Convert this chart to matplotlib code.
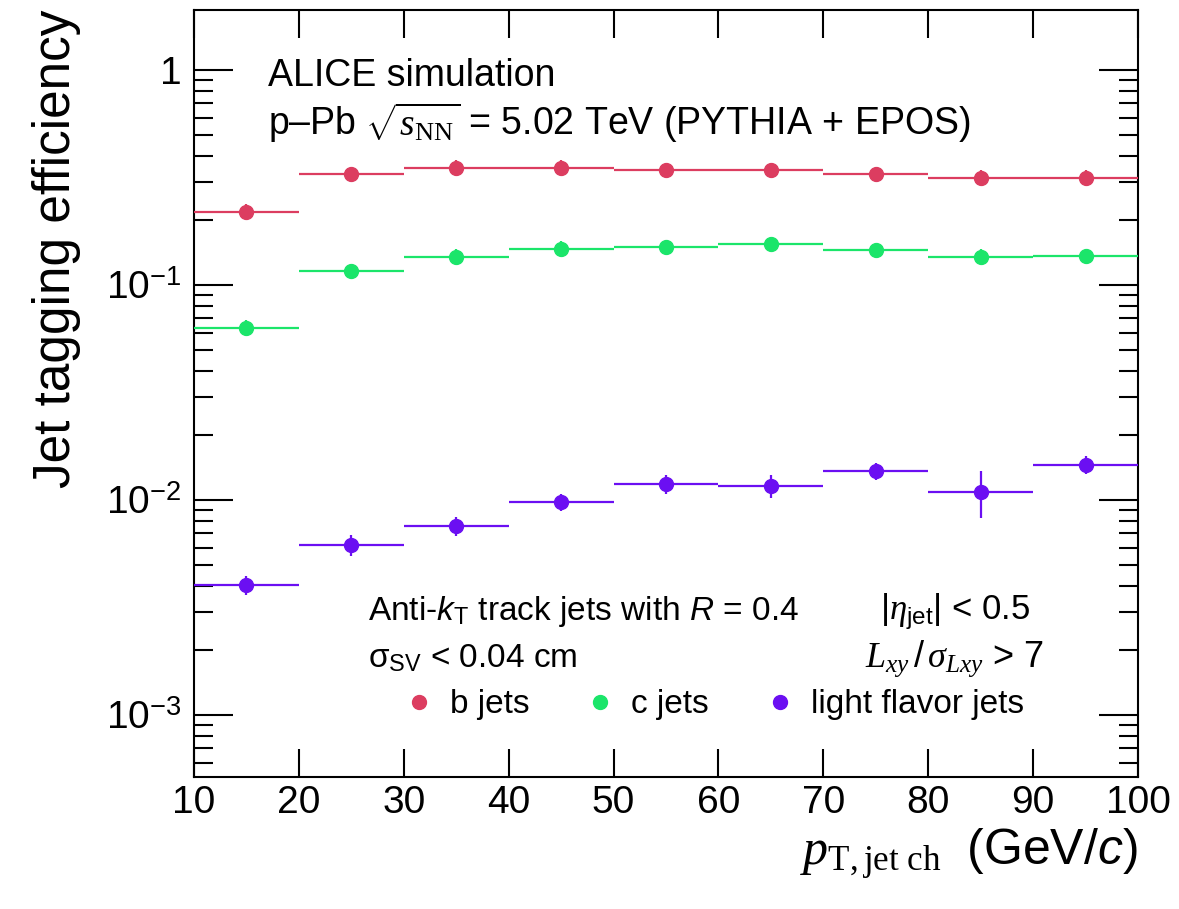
import numpy as np
import matplotlib
matplotlib.use('Agg')
import matplotlib.pyplot as plt
from matplotlib.lines import Line2D
from matplotlib.ticker import FixedLocator, LogLocator, FuncFormatter, NullFormatter

# fonts: Helvetica-like text, Times-like math (ROOT look)
plt.rcParams['font.family'] = ['Liberation Sans', 'DejaVu Sans']
plt.rcParams['mathtext.fontset'] = 'custom'
plt.rcParams['mathtext.rm'] = 'Liberation Sans'
plt.rcParams['mathtext.it'] = 'Liberation Serif:italic'
plt.rcParams['mathtext.sf'] = 'Liberation Sans:italic'
plt.rcParams['mathtext.tt'] = 'Liberation Serif'
plt.rcParams['mathtext.bf'] = 'Liberation Sans:bold'

# ===============
# Data
# ===============
pt_centers = [15, 25, 35, 45, 55, 65, 75, 85, 95]
bin_half_width = 5

b_eff = [0.219, 0.328, 0.351, 0.351, 0.343, 0.343, 0.328, 0.316, 0.316]
b_err = [0.019, 0.027, 0.029, 0.029, 0.028, 0.028, 0.027, 0.026, 0.026]

c_eff = [0.0633, 0.116, 0.1355, 0.1475, 0.1507, 0.1546, 0.145, 0.1355, 0.1365]
c_err = [0.0055, 0.0095, 0.011, 0.012, 0.012, 0.013, 0.012, 0.011, 0.011]

light_eff = [0.00403, 0.0062, 0.00755, 0.0098, 0.0119, 0.01167, 0.0136, 0.01094, 0.0146]
light_err = [0.0004, 0.0007, 0.00075, 0.0009, 0.0012, 0.0014, 0.0012, 0.0027, 0.0014]

labels = ['b jets', 'c jets', 'light flavor jets']
colors = ['#dc3d60', '#1be56a', '#6b0ff2']

x_ticks = [10, 20, 30, 40, 50, 60, 70, 80, 90, 100]

# ===============
# Figure
# ===============
fig = plt.figure(figsize=(11.79, 9.09), dpi=100)
ax = fig.add_axes([0.1645, 0.1452, 0.8007, 0.8438])

series = [(b_eff, b_err), (c_eff, c_err), (light_eff, light_err)]
for (eff, err), col in zip(series, colors):
    ax.errorbar(pt_centers, eff, xerr=bin_half_width, yerr=err, fmt='o', color=col,
                ms=10, elinewidth=1.6, capsize=0, zorder=3)

ax.set_yscale('log')
ax.set_xlim(10, 100)
ax.set_ylim(5.15e-4, 1.9)

# ticks ROOT style
ax.xaxis.set_major_locator(FixedLocator(x_ticks))
ax.yaxis.set_major_locator(LogLocator(base=10, numticks=10))
ax.yaxis.set_minor_locator(LogLocator(base=10, subs=np.arange(2, 10), numticks=20))
ax.yaxis.set_minor_formatter(NullFormatter())


def yfmt(v, pos):
    e = int(round(np.log10(v)))
    if e == 0:
        return '1'
    return r'$10^{%d}$' % e


ax.yaxis.set_major_formatter(FuncFormatter(yfmt))
ax.tick_params(axis='both', which='both', direction='in', top=True, right=True,
               width=1.5, labelsize=28)
ax.tick_params(axis='y', which='major', length=28, pad=9)
ax.tick_params(axis='y', which='minor', length=14)
ax.tick_params(axis='x', which='major', length=20, pad=6)
for sp in ax.spines.values():
    sp.set_linewidth(1.5)

ax.set_ylabel('Jet tagging efficiency', fontsize=37, loc='top', labelpad=18)
ax.set_xlabel(r'$p_{\mathtt{T,jet\ ch}}\ $ (GeV/$\mathsf{c}$)', fontsize=36, loc='right', labelpad=4)

# ===============
# Annotations
# ===============
ax.text(0.078, 0.901, 'ALICE simulation', transform=ax.transAxes, fontsize=27, va='baseline')
ax.text(0.078, 0.837, r'p–Pb $\sqrt{s_{\mathtt{NN}}}$ = 5.02 TeV (PYTHIA + EPOS)',
        transform=ax.transAxes, fontsize=27, va='baseline')
ax.text(0.184, 0.205, r'Anti-$\mathsf{k}_{\mathrm{T}}$ track jets with $\mathsf{R}$ = 0.4',
        transform=ax.transAxes, fontsize=24, va='baseline')
ax.text(0.727, 0.205, r'$|\eta_{\mathrm{jet}}|$ < 0.5', transform=ax.transAxes,
        fontsize=25, va='baseline')
ax.text(0.184, 0.143, r'σ$_{\mathrm{SV}}$ < 0.04 cm', transform=ax.transAxes,
        fontsize=24, va='baseline')
ax.text(0.901, 0.143, r'$L_{xy}\,/\,\sigma_{Lxy}$ > 7', transform=ax.transAxes,
        fontsize=26, va='baseline', ha='right')

handles = [Line2D([], [], linestyle='none', marker='o', ms=10, color=c) for c in colors]
ax.legend(handles, labels, ncol=3, loc='center left', bbox_to_anchor=(0.224, 0.094),
          frameon=False, fontsize=24, handlelength=0.8, handletextpad=0.53,
          columnspacing=1.73, borderpad=0, borderaxespad=0)

fig.savefig('out.png', dpi=100)
